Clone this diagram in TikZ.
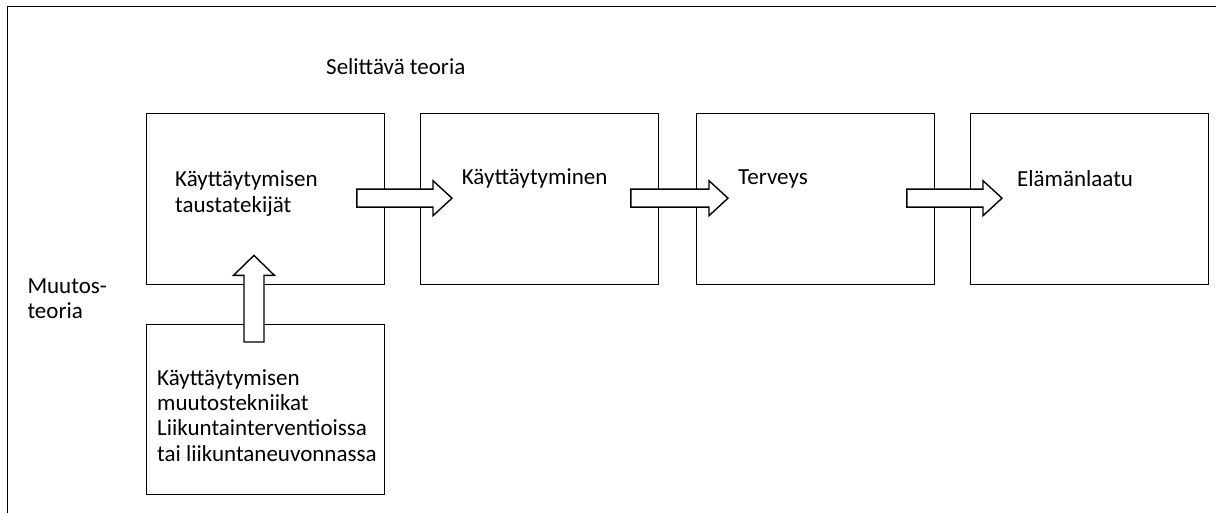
\documentclass[tikz,border=0pt]{standalone}
\usepackage{fontspec}
\setmainfont{Carlito}
\usetikzlibrary{calc}
% block arrow pointing right: #1 = tail centre, #2 = tip
\newcommand\rblockarrow[2]{%
  \draw[blk] ($(#1)+(0,-9)$) -- ($(#2)+(-19,-9)$) -- ($(#2)+(-19,-17.5)$) -- (#2)
    -- ($(#2)+(-19,17.5)$) -- ($(#2)+(-19,9)$) -- ($(#1)+(0,9)$) -- cycle;}
% block arrow pointing up: #1 = tail centre, #2 = tip
\newcommand\ublockarrow[2]{%
  \draw[blk] ($(#1)+(-10,0)$) -- ($(#2)+(-10,20)$) -- ($(#2)+(-20.5,20)$) -- (#2)
    -- ($(#2)+(20.5,20)$) -- ($(#2)+(10,20)$) -- ($(#1)+(10,0)$) -- cycle;}
\begin{document}
\begin{tikzpicture}[x=1pt,y=-1pt,
  box/.style={draw, line width=1.4pt, minimum width=237.5pt, minimum height=171pt,
              inner sep=0pt, anchor=north west},
  lbl/.style={inner sep=0pt, anchor=base west, align=left,
              font=\fontsize{23}{25.4}\selectfont},
  blk/.style={draw, fill=white, line width=1.4pt, line join=miter}]
\useasboundingbox (0,0) rectangle (1216,513);
% frame
\draw[line width=1.5pt] (7.5,513) -- (7.5,6.7) -- (1216,6.7);
% boxes
\node[box] (b1) at (146,113) {};
\node[box] (b2) at (420,113) {};
\node[box] (b3) at (696,113) {};
\node[box] (b4) at (970,113) {};
\node[box, minimum height=170pt] (b5) at (146,324) {};
% arrows between the boxes
\coordinate (a1s) at ($(b1.east)+(-28,-1)$);
\coordinate (a1t) at ($(b2.west)+(32,-1)$);
\coordinate (a2s) at ($(b2.east)+(-28,-1)$);
\coordinate (a2t) at ($(b3.west)+(32,-1)$);
\coordinate (a3s) at ($(b3.east)+(-28,-1)$);
\coordinate (a3t) at ($(b4.west)+(32,-1)$);
\coordinate (a4s) at ($(b5.north)+(-11.5,18)$);
\coordinate (a4t) at ($(b1.south)+(-11.5,-30)$);
\rblockarrow{a1s}{a1t}
\rblockarrow{a2s}{a2t}
\rblockarrow{a3s}{a3t}
\ublockarrow{a4s}{a4t}
% labels (multi-line labels are placed by the baseline of their last line)
\node[lbl] (tsel) at (326,75) {Selittävä teoria};
\node[lbl] (tmuu) at (27.3,318.5) {Muutos-\\teoria};
\node[lbl] (t1) at (175,212.1) {Käyttäytymisen\\taustatekijät};
\node[lbl] (t2) at (461.7,185) {Käyttäytyminen};
\node[lbl] (t3) at (738,185) {Terveys};
\node[lbl] (t4) at (1017,187) {Elämänlaatu};
\node[lbl] (t5) at (157,461.2) {Käyttäytymisen\\muutostekniikat\\Liikuntainterventioissa\\tai liikuntaneuvonnassa};
\end{tikzpicture}
\end{document}
